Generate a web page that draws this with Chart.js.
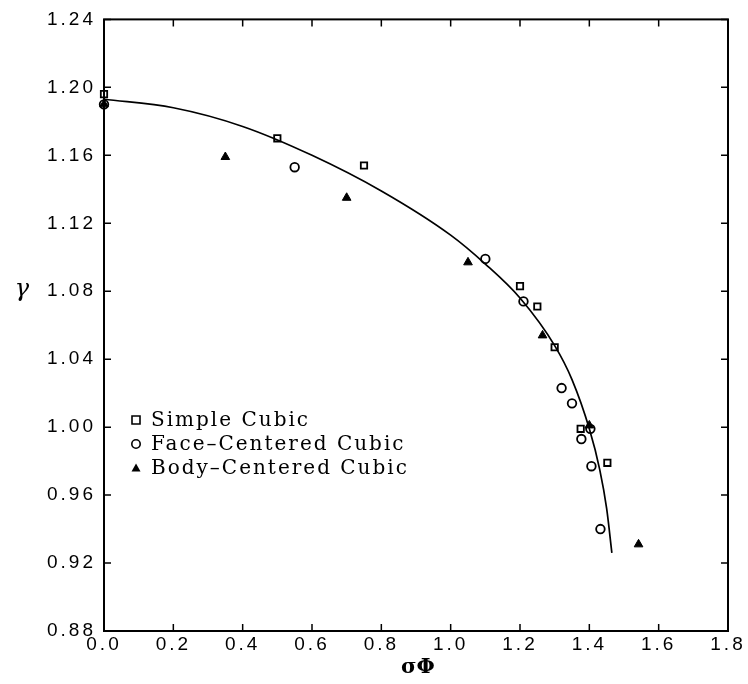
<!DOCTYPE html>
<html>
<head>
<meta charset="utf-8">
<script src="https://cdn.jsdelivr.net/npm/chart.js@4"></script>
<style>
  body { margin: 0; background: #fff; }
  #wrap { width: 748px; height: 684px; }
</style>
</head>
<body>
<div id="wrap"><canvas id="plot" width="748" height="684"></canvas></div>
<script>
// sigma*Phi vs gamma for the three cubic lattices
const scX = [0, 0.5, 0.75, 1.2, 1.25, 1.3, 1.375, 1.452];
const scY = [1.196, 1.170, 1.154, 1.083, 1.071, 1.047, 0.999, 0.979];
const fccX = [0, 0.55, 1.1, 1.21, 1.32, 1.35, 1.377, 1.403, 1.406, 1.432];
const fccY = [1.190, 1.153, 1.099, 1.074, 1.023, 1.014, 0.993, 0.999, 0.977, 0.940];
const bccX = [0, 0.35, 0.70, 1.05, 1.265, 1.40, 1.542];
const bccY = [1.190, 1.159, 1.135, 1.097, 1.054, 1.001, 0.931];

// fitted curve, read at a handful of points
const fitX = [0, 0.2, 0.4, 0.6, 0.8, 1.0, 1.1, 1.2, 1.3, 1.35, 1.4, 1.43, 1.45, 1.465];
const fitY = [1.193, 1.188, 1.177, 1.160, 1.139, 1.113, 1.096, 1.076, 1.048, 1.028, 0.999, 0.975, 0.952, 0.926];

const xTicks = [0, 0.2, 0.4, 0.6, 0.8, 1.0, 1.2, 1.4, 1.6, 1.8];
const yTicks = [0.88, 0.92, 0.96, 1.00, 1.04, 1.08, 1.12, 1.16, 1.20, 1.24];

const legendNames = ['Simple Cubic', 'Face\u2013Centered Cubic', 'Body\u2013Centered Cubic'];

const pts = (xs, ys) => xs.map((x, i) => ({ x: x, y: ys[i] }));

const frame = {
  id: 'frame',
  beforeDraw(chart) {
    chart.ctx.letterSpacing = '3px';
  },
  afterDraw(chart) {
    const ctx = chart.ctx, a = chart.chartArea;
    const xs = chart.scales.x, ys = chart.scales.y;
    ctx.save();
    ctx.letterSpacing = '0px';
    ctx.strokeStyle = '#000';
    ctx.lineWidth = 2;
    ctx.strokeRect(a.left, a.top, a.right - a.left, a.bottom - a.top);
    ctx.lineWidth = 1.5;
    ctx.beginPath();
    xTicks.forEach(v => {
      const p = xs.getPixelForValue(v);
      ctx.moveTo(p, a.bottom); ctx.lineTo(p, a.bottom - 7);
      ctx.moveTo(p, a.top); ctx.lineTo(p, a.top + 7);
    });
    yTicks.forEach(v => {
      const p = ys.getPixelForValue(v);
      ctx.moveTo(a.left, p); ctx.lineTo(a.left + 7, p);
      ctx.moveTo(a.right, p); ctx.lineTo(a.right - 7, p);
    });
    ctx.stroke();

    // axis titles
    ctx.fillStyle = '#000';
    ctx.textAlign = 'center';
    ctx.textBaseline = 'middle';
    ctx.font = 'italic 24px "DejaVu Serif"';
    ctx.fillText('\u03b3', 22, 290);
    ctx.font = 'bold 21px "DejaVu Serif"';
    ctx.fillText('\u03c3\u03a6', 418, 668);

    // legend
    ctx.textAlign = 'left';
    ctx.font = '20px "DejaVu Serif"';
    ctx.letterSpacing = '2px';
    const rows = [420, 444, 468];
    rows.forEach((ry, i) => {
      ctx.lineWidth = 1.6;
      ctx.beginPath();
      if (i === 0) {
        ctx.rect(132, ry - 4, 8, 8);
        ctx.stroke();
      } else if (i === 1) {
        ctx.arc(136, ry, 4.2, 0, Math.PI * 2);
        ctx.stroke();
      } else {
        ctx.moveTo(136, ry - 4.5); ctx.lineTo(140.5, ry + 3.5); ctx.lineTo(131.5, ry + 3.5);
        ctx.closePath();
        ctx.fill();
      }
      ctx.fillText(legendNames[i], 151, ry + 1);
    });
    ctx.restore();
  }
};

new Chart(document.getElementById('plot'), {
  type: 'scatter',
  data: {
    datasets: [
      {
        label: legendNames[0], data: pts(scX, scY), pointStyle: 'rect',
        pointRadius: 4.5, borderColor: '#000', backgroundColor: 'rgba(0,0,0,0)', borderWidth: 1.8, clip: false
      },
      {
        label: legendNames[1], data: pts(fccX, fccY), pointStyle: 'circle',
        pointRadius: 4.3, borderColor: '#000', backgroundColor: 'rgba(0,0,0,0)', borderWidth: 1.8, clip: false
      },
      {
        label: legendNames[2], data: pts(bccX, bccY), pointStyle: 'triangle',
        pointRadius: 5, borderColor: '#000', backgroundColor: '#000', borderWidth: 1, clip: false
      },
      {
        label: 'fit', data: pts(fitX, fitY), type: 'line', showLine: true,
        pointRadius: 0, borderColor: '#000', borderWidth: 1.7, fill: false,
        cubicInterpolationMode: 'monotone', clip: false
      }
    ]
  },
  options: {
    responsive: false,
    animation: false,
    layout: { padding: { left: 0, top: 13, right: 20, bottom: 0 } },
    plugins: { legend: { display: false }, tooltip: { enabled: false } },
    scales: {
      x: {
        type: 'linear', min: 0, max: 1.8,
        afterBuildTicks: s => { s.ticks = xTicks.map(v => ({ value: v })); },
        afterFit: s => { s.height = 53; },
        grid: { display: false, drawTicks: false },
        border: { display: false },
        ticks: {
          padding: 2, color: '#000', maxRotation: 0,
          font: { family: '"Liberation Sans"', size: 19 },
          callback: v => Number(v).toFixed(1)
        }
      },
      y: {
        type: 'linear', min: 0.88, max: 1.24,
        afterBuildTicks: s => { s.ticks = yTicks.map(v => ({ value: v })); },
        afterFit: s => { s.width = 104; },
        grid: { display: false, drawTicks: false },
        border: { display: false },
        ticks: {
          padding: 8, color: '#000',
          font: { family: '"Liberation Sans"', size: 19 },
          callback: v => Number(v).toFixed(2)
        }
      }
    }
  },
  plugins: [frame]
});
</script>
</body>
</html>
